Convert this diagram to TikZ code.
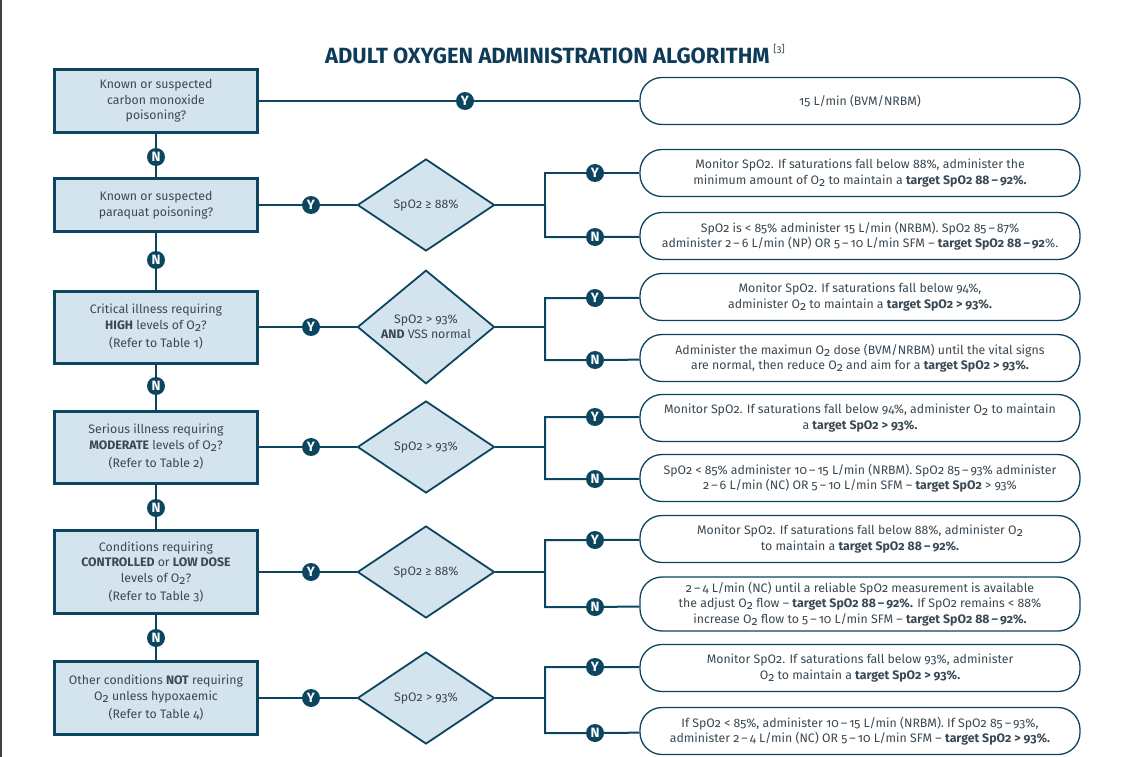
\documentclass[tikz,border=0pt]{standalone}
\usepackage{fontspec}
\setmainfont{Fira Sans}[Numbers=OldStyle]
\usepackage{tikz}
\usetikzlibrary{shapes.geometric}
\definecolor{ink}{HTML}{0B4560}
\definecolor{pale}{HTML}{D4E4EE}
\definecolor{txt}{HTML}{3A4852}
\definecolor{head}{HTML}{0E3C58}
\newcommand{\Otwo}{O\raisebox{-0.3ex}{2}}
\newcommand{\range}[2]{#1\,--\,#2}

\begin{document}
\begin{tikzpicture}[x=1pt,y=-1pt,
  question/.style={draw=ink,line width=3pt,fill=pale,text=txt,align=center,minimum width=203pt,inner sep=2pt,font=\fontsize{12.3}{15.5}\selectfont},
  check/.style={diamond,draw=ink,line width=1.8pt,fill=pale,text=txt,align=center,minimum width=137pt,minimum height=92pt,inner sep=0pt,font=\fontsize{12.3}{15}\selectfont},
  advice/.style={rectangle,rounded corners=22pt,draw=ink,line width=1.3pt,fill=white,text=txt,align=center,minimum width=440pt,minimum height=47pt,inner xsep=0pt,inner ysep=2pt,font=\fontsize{12.3}{15.5}\selectfont},
  badge/.style={circle,fill=ink,text=white,inner sep=0pt,minimum size=18pt,font=\bfseries\fontsize{13.5}{13.5}\selectfont},
  link/.style={draw=ink,line width=2pt}]
\useasboundingbox (0,0) rectangle (1125,757);
\draw[line width=1.5pt,black!75] (1,0) -- (1,757);
\node[text=head,font=\bfseries\fontsize{22}{22}\selectfont] (title) at (555,54) {ADULT OXYGEN ADMINISTRATION ALGORITHM\,\raisebox{1.0ex}{\mdseries\fontsize{10}{10}\selectfont\color{txt}[3]}};

% questions down the left
\node[question,minimum height=63pt] (q0) at (156,101) {Known or suspected\\carbon monoxide\\poisoning?};
\node[question,minimum height=53pt] (q1) at (156,205) {Known or suspected\\paraquat poisoning?};
\node[question,minimum height=72pt] (q2) at (156,327) {Critical illness requiring\\\textbf{HIGH} levels of \Otwo?\\[3pt](Refer to Table 1)};
\node[question,minimum height=72pt] (q3) at (156,447) {Serious illness requiring\\\textbf{MODERATE} levels of \Otwo?\\[3pt](Refer to Table 2)};
\node[question,minimum height=83pt] (q4) at (156,572) {Conditions requiring\\\textbf{CONTROLLED} or \textbf{LOW DOSE}\\levels of \Otwo?\\[3pt](Refer to Table 3)};
\node[question,minimum height=73pt] (q5) at (156,698) {Other conditions \textbf{NOT} requiring\\\Otwo{} unless hypoxaemic\\[3pt](Refer to Table 4)};

\node[badge] (n0) at (156,157) {N};
\node[badge] (n1) at (156,260) {N};
\node[badge] (n2) at (156,386) {N};
\node[badge] (n3) at (156,508) {N};
\node[badge] (n4) at (156,638) {N};

% saturation checks
\node[check] (d1) at (426,205) {SpO2 ≥ 88\%};
\node[check] (d2) at (426,327) {SpO2 > 93\%\\\textbf{AND} VSS normal};
\node[check] (d3) at (426,447) {SpO2 > 93\%};
\node[check] (d4) at (426,572) {SpO2 ≥ 88\%};
\node[check] (d5) at (426,698) {SpO2 > 93\%};

\node[badge] (y0) at (465,101) {Y};
\node[badge] (ya1) at (311,205) {Y};
\node[badge] (ya2) at (311,327) {Y};
\node[badge] (ya3) at (311,447) {Y};
\node[badge] (ya4) at (311,572) {Y};
\node[badge] (ya5) at (311,698) {Y};

\coordinate (b1) at (545,205);
\coordinate (b2) at (545,327);
\coordinate (b3) at (545,447);
\coordinate (b4) at (545,572);
\coordinate (b5) at (545,698);

\node[badge] (yy1) at (595,173) {Y};
\node[badge] (nn1) at (595,237) {N};
\node[badge] (yy2) at (595,298) {Y};
\node[badge] (nn2) at (595,360) {N};
\node[badge] (yy3) at (595,417) {Y};
\node[badge] (nn3) at (595,479) {N};
\node[badge] (yy4) at (595,540) {Y};
\node[badge] (nn4) at (595,607) {N};
\node[badge] (yy5) at (595,667) {Y};
\node[badge] (nn5) at (595,733) {N};

% advice on the right
\node[advice] (r0) at (860,101) {15 L/min (BVM/NRBM)};
\node[advice] (r1y) at (860,173) {Monitor SpO2. If saturations fall below 88\%, administer the\\minimum amount of \Otwo{} to maintain a \textbf{target SpO2 \range{88}{92}\%.}};
\node[advice] (r1n) at (860,236) {SpO2 is < 85\% administer 15 L/min (NRBM). SpO2 \range{85}{87}\%\\administer \range{2}{6} L/min (NP) OR \range{5}{10} L/min SFM -- \textbf{target SpO2 \range{88}{92}}\%.};
\node[advice] (r2y) at (860,297) {Monitor SpO2. If saturations fall below 94\%,\\administer \Otwo{} to maintain a \textbf{target SpO2 > 93\%.}};
\node[advice] (r2n) at (860,358) {Administer the maximun \Otwo{} dose (BVM/NRBM) until the vital signs\\are normal, then reduce \Otwo{} and aim for a \textbf{target SpO2 > 93\%.}};
\node[advice] (r3y) at (860,418) {Monitor SpO2. If saturations fall below 94\%, administer \Otwo{} to maintain\\a \textbf{target SpO2 > 93\%.}};
\node[advice] (r3n) at (860,478) {SpO2 < 85\% administer \range{10}{15} L/min (NRBM). SpO2 \range{85}{93}\% administer\\\range{2}{6} L/min (NC) OR \range{5}{10} L/min SFM -- \textbf{target SpO2} > 93\%};
\node[advice] (r4y) at (860,539) {Monitor SpO2. If saturations fall below 88\%, administer \Otwo\\to maintain a \textbf{target SpO2 \range{88}{92}\%.}};
\node[advice,minimum height=54pt] (r4n) at (860,604) {\range{2}{4} L/min (NC) until a reliable SpO2 measurement is available\\the adjust \Otwo{} flow -- \textbf{target SpO2 \range{88}{92}\%.} If SpO2 remains < 88\%\\increase \Otwo{} flow to \range{5}{10} L/min SFM -- \textbf{target SpO2 \range{88}{92}\%.}};
\node[advice] (r5y) at (860,668) {Monitor SpO2. If saturations fall below 93\%, administer\\\Otwo{} to maintain a \textbf{target SpO2 > 93\%.}};
\node[advice] (r5n) at (860,731) {If SpO2 < 85\%, administer \range{10}{15} L/min (NRBM). If SpO2 \range{85}{93}\%,\\administer \range{2}{4} L/min (NC) OR \range{5}{10} L/min SFM -- \textbf{target SpO2 > 93\%.}};

% connectors
\draw[link] (q0) -- (y0) -- (r0);
\draw[link] (q0) -- (n0) -- (q1);
\draw[link] (q1) -- (n1) -- (q2);
\draw[link] (q2) -- (n2) -- (q3);
\draw[link] (q3) -- (n3) -- (q4);
\draw[link] (q4) -- (n4) -- (q5);

\draw[link] (q1) -- (ya1) -- (d1) -- (b1);
\draw[link] (b1) |- (yy1) -- (r1y);
\draw[link] (b1) |- (nn1) -- (r1n);
\draw[link] (q2) -- (ya2) -- (d2) -- (b2);
\draw[link] (b2) |- (yy2) -- (r2y);
\draw[link] (b2) |- (nn2) -- (r2n);
\draw[link] (q3) -- (ya3) -- (d3) -- (b3);
\draw[link] (b3) |- (yy3) -- (r3y);
\draw[link] (b3) |- (nn3) -- (r3n);
\draw[link] (q4) -- (ya4) -- (d4) -- (b4);
\draw[link] (b4) |- (yy4) -- (r4y);
\draw[link] (b4) |- (nn4) -- (r4n);
\draw[link] (q5) -- (ya5) -- (d5) -- (b5);
\draw[link] (b5) |- (yy5) -- (r5y);
\draw[link] (b5) |- (nn5) -- (r5n);
\end{tikzpicture}
\end{document}
